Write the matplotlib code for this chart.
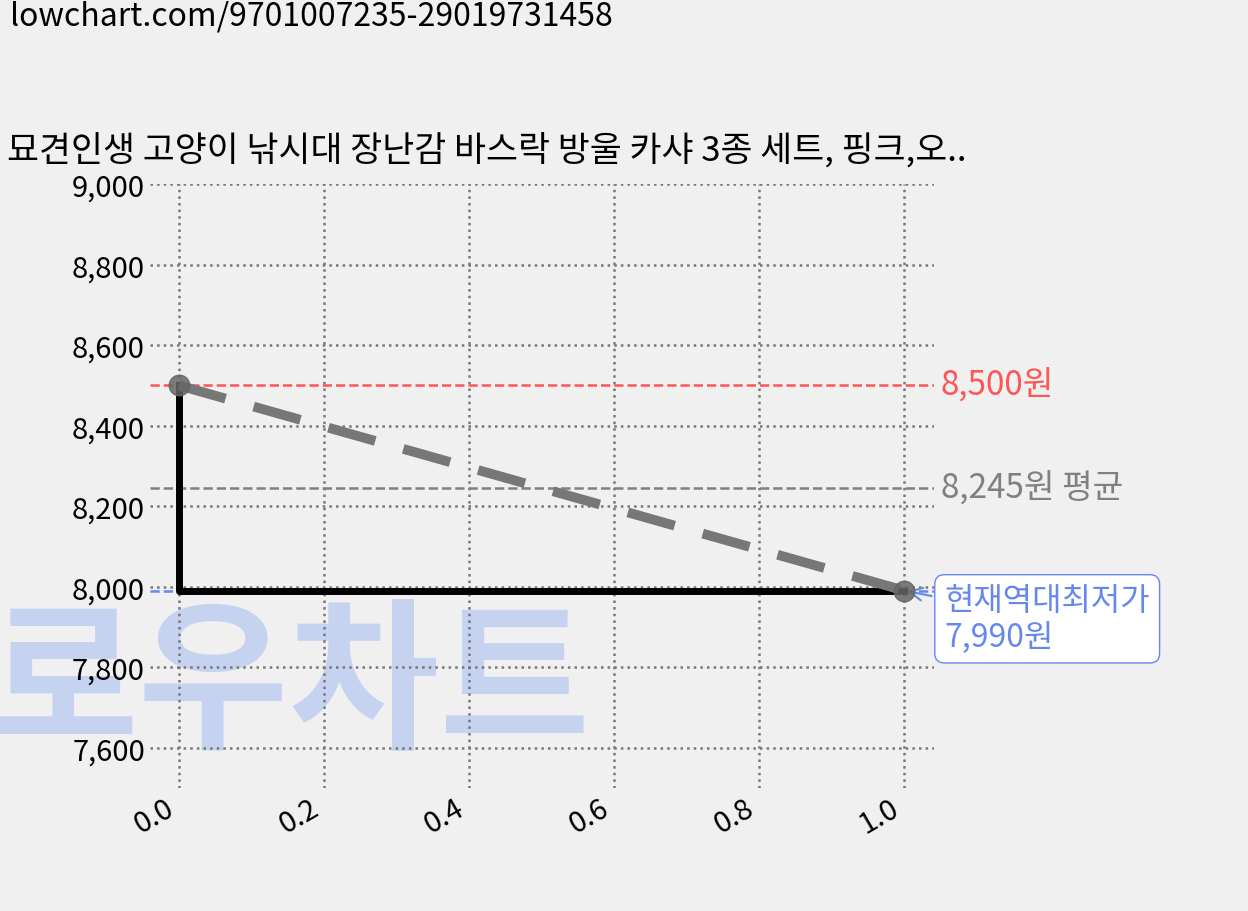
import matplotlib
matplotlib.use("Agg")
import matplotlib.pyplot as plt

plt.rcParams['font.family'] = ['Noto Sans CJK KR', 'DejaVu Sans']

xs = [0, 1]
prices = [8500, 7990]
max_price = 8500
avg_price = 8245
min_price = 7990
title = "묘견인생 고양이 낚시대 장난감 바스락 방울 카샤 3종 세트, 핑크,오.."
url = "lowchart.com/9701007235-29019731458"

fig = plt.figure(figsize=(12.48, 9.12), dpi=100, facecolor='#f0f0f0')
fig.text(-0.01, 0.155, "로우차트", fontsize=118, fontweight='black', color='#c5d3f0',
         ha='left', va='bottom', zorder=0)
ax = fig.add_axes([0.120, 0.135, 0.628, 0.662])
ax.set_facecolor('none')
ax.set_zorder(2)

ax.axhline(max_price, color='#ff5555', ls='--', lw=1.8)
ax.axhline(avg_price, color='#808080', ls='--', lw=1.8)
ax.axhline(min_price, color='#6688ee', ls='--', lw=1.8)
ax.plot([xs[0], xs[0], xs[1]], [prices[0], prices[1], prices[1]], color='black', lw=5, zorder=3)
ax.plot(xs, prices, color='#777777', ls=(0, (5, 3)), lw=7, zorder=4)
ax.scatter(xs, prices, s=220, color='#666666', alpha=0.85, zorder=5)

ax.set_xlim(-0.04, 1.04)
ax.set_ylim(7500, 9000)
ax.set_yticks(range(7600, 9001, 200))
ax.set_yticklabels([f"{v:,}" for v in range(7600, 9001, 200)], fontsize=21)
ax.set_xticks([0, 0.2, 0.4, 0.6, 0.8, 1.0])
ax.set_xticklabels(["0.0", "0.2", "0.4", "0.6", "0.8", "1.0"], fontsize=21, rotation=30, ha='right')
ax.tick_params(length=0)
for s in ax.spines.values():
    s.set_visible(False)
ax.grid(True, ls=':', color='#777777', lw=1.8)

ax.text(1.05, max_price, f"{max_price:,}원", color='#ff5555', fontsize=24, va='center', ha='left', clip_on=False)
ax.text(1.05, avg_price, f"{avg_price:,}원 평균", color='#808080', fontsize=24, va='center', ha='left', clip_on=False)
ax.annotate(f"현재역대최저가\n{min_price:,}원", xy=(1.0, min_price), xytext=(1.055, 7920),
            color='#6688ee', fontsize=23, va='center', ha='left', annotation_clip=False,
            bbox=dict(boxstyle='round,pad=0.3', fc='white', ec='#6688ee'),
            arrowprops=dict(arrowstyle='->', color='#6688ee', lw=1.5))

fig.text(0.008, 0.982, url, fontsize=23, ha='left', va='center')
fig.text(0.006, 0.835, title, fontsize=25, ha='left', va='center')

fig.savefig("out.png", dpi=100, facecolor=fig.get_facecolor())
